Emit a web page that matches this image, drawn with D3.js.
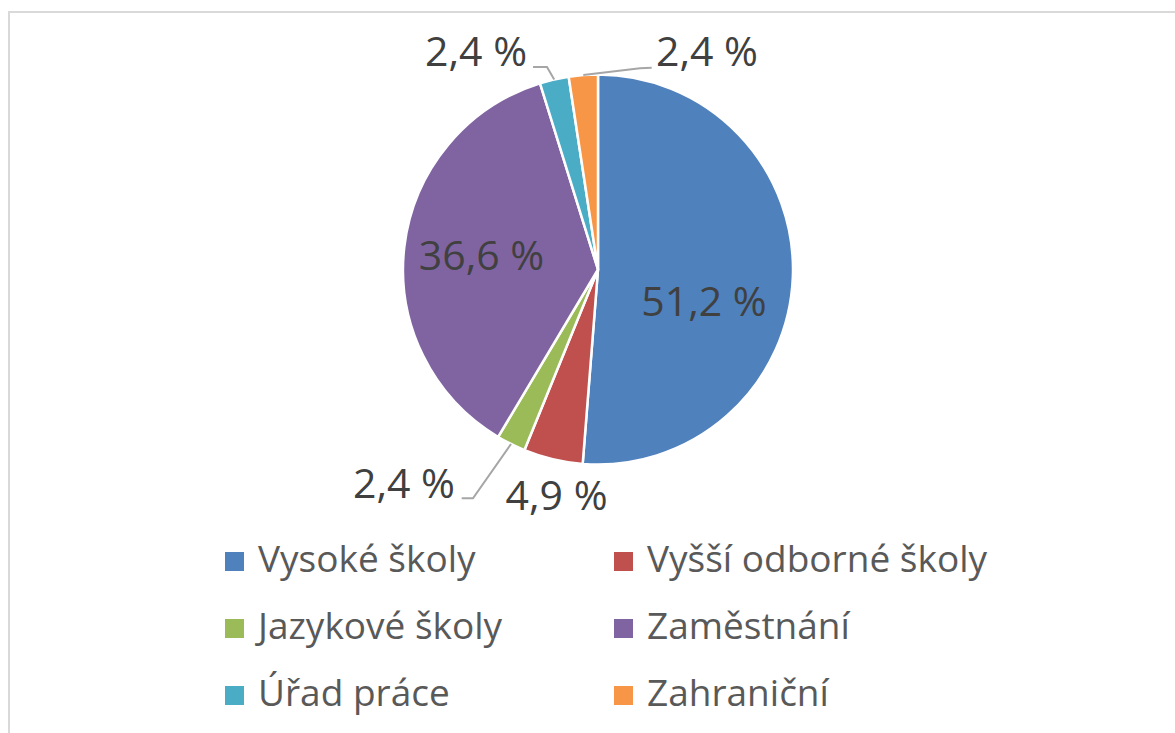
<!DOCTYPE html>
<html>
<head>
<meta charset="utf-8">
<script src="https://cdn.jsdelivr.net/npm/d3@7"></script>
<style>
  html, body { margin: 0; padding: 0; background: #fff; }
  svg { display: block; }
  text { font-family: "Open Sans", sans-serif; }
</style>
</head>
<body>
<svg id="chart" width="1175" height="733"></svg>
<script>
// ---- data ----
const categories = ["Vysoké školy", "Vyšší odborné školy", "Jazykové školy", "Zaměstnání", "Úřad práce", "Zahraniční"];
const percentValues = [51.2, 4.9, 2.4, 36.6, 2.4, 2.4];
const valueLabels = ["51,2 %", "4,9 %", "2,4 %", "36,6 %", "2,4 %", "2,4 %"];
const colors = ["#4F81BD", "#C0504D", "#9BBB59", "#8064A2", "#4BACC6", "#F79646"];

// ---- layout ----
const W = 1175, H = 733;
const cx = 598, cy = 269.5, R = 195;

const svg = d3.select("#chart");

// chart frame (only top & left edges are visible in the window)
svg.append("rect")
  .attr("x", 9).attr("y", 12)
  .attr("width", 1300).attr("height", 900)
  .attr("fill", "none")
  .attr("stroke", "#d9d9d9")
  .attr("stroke-width", 2);

const pie = d3.pie().sort(null).value(d => d);
const arcs = pie(percentValues);
const arc = d3.arc().innerRadius(0).outerRadius(R);

const g = svg.append("g").attr("transform", `translate(${cx},${cy})`);

g.selectAll("path.slice")
  .data(arcs)
  .join("path")
  .attr("class", "slice")
  .attr("d", arc)
  .attr("fill", (d, i) => colors[i])
  .attr("stroke", "#fff")
  .attr("stroke-width", 2.5)
  .attr("stroke-linejoin", "miter");

// label placement (relative to pie centre), Excel-style best fit
// kind: "in" inside slice, "out" outside without leader, "lead" outside with leader line
const labelPlacement = [
  { x: 106,  y: 46.5,  anchor: "middle", lead: null },
  { x: -41.5, y: 240.5, anchor: "middle", lead: null },
  { x: -143, y: 228.5, anchor: "end",    lead: [[-136.3, 228.8], [-125, 228.8]] },
  { x: -116.5, y: 0.5, anchor: "middle", lead: null },
  { x: -122, y: -203.5, anchor: "middle", lead: [[-65, -202.5], [-51, -202.5]] },
  { x: 109,  y: -203.5, anchor: "middle", lead: [[53.7, -201.8], [42, -201.2]] }
];

// leader lines: from label to outer edge at slice mid-angle
arcs.forEach((a, i) => {
  const p = labelPlacement[i];
  if (!p.lead) return;
  const mid = (a.startAngle + a.endAngle) / 2;
  const edge = [Math.sin(mid) * R, -Math.cos(mid) * R];
  const pts = p.lead.concat([edge]);
  g.append("path")
    .attr("d", d3.line()(pts))
    .attr("fill", "none")
    .attr("stroke", "#a6a6a6")
    .attr("stroke-width", 2);
});

g.selectAll("text.val")
  .data(arcs)
  .join("text")
  .attr("class", "val")
  .attr("x", (d, i) => labelPlacement[i].x)
  .attr("y", (d, i) => labelPlacement[i].y)
  .attr("text-anchor", (d, i) => labelPlacement[i].anchor)
  .attr("font-size", 41)
  .attr("fill", "#404040")
  .text((d, i) => valueLabels[i]);

// ---- legend ----
const legendColX = [225, 614];
const legendRowY = [552, 619, 686];
const box = 19;

const legend = svg.append("g");
categories.forEach((c, i) => {
  const col = i % 2, row = Math.floor(i / 2);
  const lx = legendColX[col], ly = legendRowY[row];
  legend.append("rect")
    .attr("x", lx).attr("y", ly)
    .attr("width", box).attr("height", box)
    .attr("fill", colors[i]);
  legend.append("text")
    .attr("x", lx + 33)
    .attr("y", ly + box + 1)
    .attr("font-size", 37)
    .attr("fill", "#595959")
    .text(c);
});
</script>
</body>
</html>
